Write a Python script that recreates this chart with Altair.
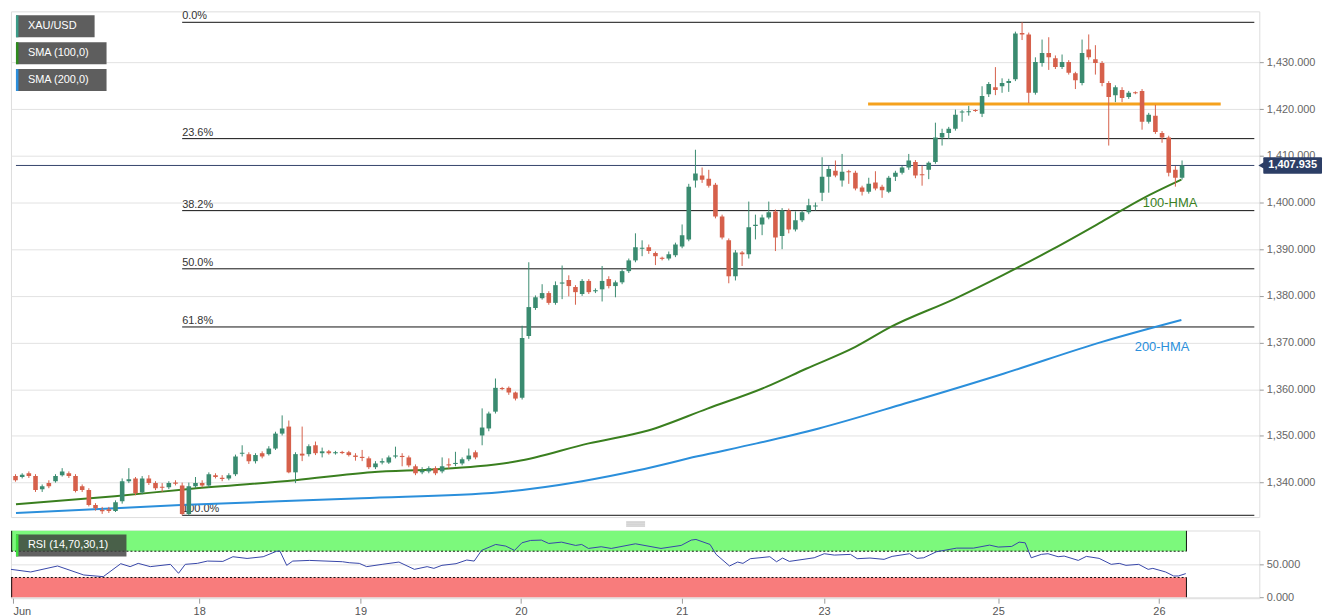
import altair as alt
import pandas as pd

# ---------------- data ----------------
FIRST_INDEX = -1
opens = [1341.4,1341.2,1342.0,1341.4,1338.6,1339.9,1340.3,1341.6,1342.0,1341.4,1339.2,1338.4,1335.2,1334.1,1334.3,1333.9,1336.0,1340.3,1340.9,1337.9,1340.9,1339.9,1339.1,1339.0,1340.0,1339.4,1333.3,1339.2,1339.9,1339.4,1341.6,1341.0,1340.9,1341.8,1346.2,1346.1,1344.6,1346.3,1346.1,1347.3,1350.5,1352.0,1342.2,1346.2,1346.1,1348.0,1346.3,1346.7,1346.3,1346.5,1346.5,1345.8,1345.5,1345.2,1343.3,1344.3,1344.3,1345.6,1345.7,1345.4,1343.5,1342.2,1342.4,1343.1,1342.4,1343.9,1344.0,1344.1,1345.0,1346.5,1350.1,1351.6,1355.2,1360.2,1360.3,1359.3,1358.2,1371.4,1377.4,1379.5,1380.6,1378.5,1382.7,1383.4,1381.9,1380.4,1383.2,1381.0,1381.4,1383.6,1382.1,1382.9,1385.3,1387.6,1390.1,1390.4,1389.2,1388.1,1388.0,1388.7,1390.6,1392.1,1404.7,1405.8,1405.1,1403.8,1397.0,1391.9,1384.2,1389.3,1388.9,1395.0,1395.3,1396.8,1398.1,1392.8,1398.3,1394.2,1396.2,1397.9,1399.2,1402.1,1405.5,1406.8,1404.7,1406.7,1406.4,1403.2,1402.3,1404.3,1403.4,1402.3,1405.5,1406.4,1407.5,1408.7,1406.0,1407.0,1408.7,1413.9,1414.9,1415.8,1419.3,1419.4,1419.8,1419.0,1423.2,1424.7,1424.9,1425.6,1426.4,1436.3,1436.0,1423.5,1429.9,1432.0,1430.9,1429.0,1430.1,1427.7,1425.6,1432.8,1430.7,1429.9,1425.6,1423.0,1424.1,1422.6,1423.6,1423.9,1417.3,1418.6,1414.9,1413.9,1407.0,1405.3]
highs = [1341.8,1342.0,1342.4,1341.8,1339.6,1340.5,1341.8,1343.1,1342.4,1341.8,1339.6,1338.8,1335.6,1334.8,1334.8,1336.2,1340.9,1343.1,1341.2,1341.4,1341.6,1340.3,1339.9,1340.3,1340.5,1340.0,1340.0,1341.2,1340.5,1342.2,1342.0,1341.6,1342.0,1346.0,1348.0,1346.5,1346.3,1346.7,1347.8,1350.9,1354.4,1353.3,1346.5,1352.0,1348.2,1348.8,1347.5,1347.0,1346.8,1346.8,1346.8,1346.3,1347.0,1345.6,1344.6,1345.2,1345.8,1347.7,1346.3,1345.8,1343.9,1343.3,1343.5,1343.5,1345.4,1345.2,1346.6,1345.4,1347.3,1346.9,1355.9,1355.2,1362.3,1360.5,1360.6,1359.5,1373.6,1387.2,1380.1,1382.5,1381.0,1383.1,1386.5,1384.4,1382.3,1383.6,1383.6,1381.6,1386.4,1384.2,1383.3,1385.7,1388.0,1393.4,1391.9,1391.0,1389.5,1388.4,1389.5,1391.4,1395.3,1404.0,1411.3,1407.5,1407.0,1404.2,1397.4,1392.3,1389.8,1389.6,1400.2,1397.4,1397.4,1400.2,1398.5,1398.8,1398.7,1398.1,1398.3,1400.8,1400.0,1409.7,1407.8,1409.0,1410.4,1407.0,1406.8,1403.6,1405.3,1406.7,1403.8,1405.7,1406.8,1407.8,1410.4,1409.1,1407.9,1408.8,1417.1,1415.8,1416.2,1419.9,1419.8,1420.7,1420.0,1424.9,1425.8,1429.0,1426.6,1426.5,1436.6,1438.6,1436.4,1431.1,1434.9,1435.4,1431.5,1431.7,1430.5,1428.0,1434.9,1436.0,1433.7,1430.3,1426.0,1425.1,1424.7,1423.9,1423.8,1424.3,1419.2,1420.9,1415.3,1414.3,1407.8,1409.0]
lows = [1340.2,1340.9,1341.0,1338.0,1338.0,1338.8,1340.0,1341.3,1341.0,1337.9,1338.0,1334.9,1334.0,1333.3,1333.5,1333.7,1335.5,1339.9,1337.3,1337.5,1339.5,1338.4,1338.0,1338.6,1339.4,1333.0,1333.0,1338.8,1339.0,1338.9,1340.9,1340.3,1340.5,1341.4,1345.6,1344.0,1344.1,1345.2,1345.8,1347.0,1350.1,1342.0,1339.9,1344.6,1345.6,1345.9,1345.4,1346.0,1346.0,1346.1,1345.6,1344.7,1344.6,1342.9,1342.9,1343.9,1344.0,1345.2,1343.5,1343.3,1341.6,1341.8,1342.0,1341.6,1342.0,1343.0,1343.5,1343.7,1344.6,1345.0,1348.0,1351.0,1354.8,1359.8,1358.8,1357.6,1357.8,1370.8,1377.0,1379.2,1378.1,1378.1,1379.3,1379.9,1378.1,1380.0,1380.4,1380.6,1378.8,1381.6,1379.7,1382.5,1384.9,1387.2,1388.5,1389.0,1386.6,1387.6,1387.6,1388.3,1390.2,1391.7,1403.2,1404.2,1403.2,1396.6,1392.1,1382.7,1383.3,1386.4,1388.0,1392.1,1393.0,1396.4,1389.6,1390.0,1393.4,1393.8,1395.8,1397.5,1398.3,1400.3,1402.1,1405.4,1403.4,1404.0,1402.6,1401.5,1401.9,1402.6,1401.0,1402.0,1404.6,1406.0,1407.0,1405.2,1403.6,1405.0,1408.3,1412.2,1413.6,1415.4,1417.3,1418.6,1419.4,1418.3,1422.6,1423.0,1423.5,1423.7,1426.0,1434.8,1421.3,1423.1,1429.1,1428.4,1428.6,1428.6,1427.4,1424.3,1425.1,1430.6,1427.4,1424.9,1412.2,1421.5,1421.5,1422.2,1423.2,1415.6,1416.9,1414.7,1412.8,1405.6,1403.4,1404.9]
closes = [1340.5,1341.7,1341.4,1338.4,1339.2,1339.2,1341.4,1342.4,1341.4,1338.2,1338.4,1335.2,1334.5,1333.9,1333.9,1335.8,1340.3,1340.7,1337.7,1340.9,1339.9,1338.8,1338.9,1339.9,1339.8,1333.3,1339.2,1339.9,1339.4,1341.8,1341.2,1340.8,1341.6,1345.6,1346.4,1344.6,1345.9,1345.6,1347.3,1350.5,1351.6,1342.2,1346.1,1345.8,1347.8,1346.3,1346.7,1346.3,1346.5,1346.4,1345.9,1345.5,1345.3,1343.3,1344.1,1344.6,1345.4,1345.8,1345.5,1343.7,1342.0,1342.6,1343.1,1342.0,1343.5,1343.7,1344.2,1345.0,1345.8,1345.4,1351.8,1354.8,1360.3,1360.1,1359.3,1358.0,1371.0,1377.6,1379.7,1380.6,1378.5,1382.3,1382.8,1382.1,1380.8,1383.2,1380.8,1381.2,1383.2,1382.1,1382.9,1385.3,1387.6,1390.4,1390.3,1389.6,1388.5,1388.0,1388.9,1391.0,1393.0,1403.4,1406.2,1404.9,1403.6,1397.0,1392.5,1384.2,1389.3,1388.9,1394.7,1395.2,1396.8,1397.9,1392.5,1398.3,1394.2,1396.2,1397.9,1399.4,1399.3,1405.5,1407.2,1405.8,1406.6,1406.5,1403.0,1402.3,1404.0,1403.0,1402.6,1405.3,1406.4,1407.5,1409.0,1405.8,1405.9,1408.5,1413.9,1414.9,1415.8,1418.8,1419.5,1419.5,1419.6,1422.8,1425.4,1424.1,1425.6,1426.0,1436.2,1436.0,1423.5,1430.1,1432.0,1431.1,1429.0,1430.1,1427.8,1426.2,1432.0,1431.1,1429.9,1425.6,1422.6,1424.7,1422.4,1423.5,1423.4,1417.3,1418.8,1415.1,1413.9,1406.4,1405.3,1407.935]

hma100_x = [-0.93, 13.9, 24.7, 41.0, 52.4, 62.3, 68.3, 74.2, 85.0, 93.9, 102.8, 111.7, 117.6, 125.0, 130.3, 139.8, 147.2, 154.6, 162.0, 168.0, 173.9]
hma100_y = [1335.39, 1337.10, 1338.59, 1340.51, 1342.22, 1342.86, 1343.50, 1344.56, 1348.40, 1351.17, 1355.86, 1360.55, 1364.39, 1369.08, 1373.35, 1379.32, 1384.5, 1390.0, 1395.9, 1400.8, 1404.9]
hma200_x = [-0.93, 23.8, 50.9, 71.7, 84.0, 92.4, 101.3, 110.2, 119.5, 132.4, 147.2, 162.0, 173.9]
hma200_y = [1333.48, 1335.18, 1336.67, 1337.95, 1340.30, 1342.64, 1345.63, 1348.40, 1351.60, 1356.93, 1363.33, 1370.15, 1374.84]

rsi_x = [-0.93,2.0,6.0,9.9,12.8,15.4,16.8,18.0,19.8,22.8,24.0,25.0,26.8,28.3,30.6,32.1,34.2,36.6,38.6,39.1,40.1,41.0,43.5,48.4,49.4,50.9,52.0,54.3,56.8,59.1,61.0,62.0,63.2,65.3,66.9,68.0,69.1,71.2,72.7,74.0,75.1,76.4,78.0,79.1,81.0,83.1,84.0,85.0,86.9,88.4,92.0,95.8,98.8,100.3,101.0,103.1,104.0,106.0,107.2,108.0,109.1,112.0,113.0,113.9,114.9,118.6,120.1,121.6,124.0,125.0,126.9,129.0,130.2,132.8,133.9,134.9,136.8,139.8,142.3,144.7,146.0,148.0,149.1,150.0,150.9,152.4,153.4,154.9,155.8,157.9,159.1,161.0,162.8,164.0,165.0,166.9,168.3,169.0,170.9,172.1,172.8,173.9]
rsi_v = [42.4,38.4,47.5,33.8,31.3,51.0,46.5,51.5,46.5,50.0,36.4,50.0,51.5,55.0,54.5,61.6,59.0,61.6,70.0,70.0,48.5,55.0,56.0,54.0,52.5,51.5,46.5,50.0,53.5,42.4,46.5,43.9,48.5,51.0,56.6,55.0,71.2,80.3,77.8,71.2,82.8,86.4,86.9,81.8,83.8,78.8,80.3,74.2,76.8,74.2,81.3,74.2,78.8,86.9,87.9,80.3,65.2,47.5,53.5,51.5,58.6,61.6,54.0,59.6,54.5,60.0,66.2,64.1,65.2,58.6,59.6,57.6,62.1,66.2,59.1,60.0,69.2,74.7,74.7,79.3,76.3,77.3,83.8,82.8,60.0,65.2,66.2,61.6,62.6,56.0,62.1,59.1,50.0,51.5,48.5,50.0,42.4,43.9,38.4,32.3,32.3,35.9]

fib_levels = [1438.6, 1413.68, 1398.26, 1385.8, 1373.34, 1333.0]
fib_labels = ["0.0%", "23.6%", "38.2%", "50.0%", "61.8%", "100.0%"]
fib_start = 24

resistance_price = 1421.1
resistance_from, resistance_to = 126.9, 179.8
last_price = 1407.935
last_label = "1,407.935"

price_ticks = [1340, 1350, 1360, 1370, 1380, 1390, 1400, 1410, 1420, 1430]
day_ticks = [-0.64, 27.07, 51.07, 74.96, 98.9, 120.06, 145.98, 169.9]
day_labels = ["Jun", "18", "19", "20", "21", "23", "25", "26"]

X_DOMAIN = [-0.933, 184.84]
Y_DOMAIN = [1332.62, 1440.94]
RSI_DOMAIN = [-1.5, 101.5]
W, H, RH = 1254, 508, 68

GREEN = "#3a8b70"
RED = "#d6604b"
HMA100 = "#3a7f1f"
HMA200 = "#2b8fdb"
NAVY = "#2c3e66"
FONT = "Liberation Sans"

# ---------------- tables ----------------
candles = pd.DataFrame({"i": range(FIRST_INDEX, FIRST_INDEX + len(opens)),
                        "o": opens, "h": highs, "l": lows, "c": closes})
candles["dir"] = ["up" if c >= o else "down" for o, c in zip(candles.o, candles.c)]
lo = candles[["o", "c"]].min(axis=1)
hi = candles[["o", "c"]].max(axis=1)
mid = (lo + hi) / 2
thin = (hi - lo) < 0.24
candles["b0"] = lo.where(~thin, mid - 0.12)
candles["b1"] = hi.where(~thin, mid + 0.12)

h100 = pd.DataFrame({"i": hma100_x, "p": hma100_y})
h200 = pd.DataFrame({"i": hma200_x, "p": hma200_y})
rsi = pd.DataFrame({"i": rsi_x, "v": rsi_v})
fib = pd.DataFrame({"p": fib_levels, "t": fib_labels, "x0": fib_start, "x1": X_DOMAIN[1]})

xs = alt.Scale(domain=X_DOMAIN, nice=False, zero=False)
ys = alt.Scale(domain=Y_DOMAIN, nice=False, zero=False)
rs = alt.Scale(domain=RSI_DOMAIN, nice=False, zero=False)
col = alt.Color("dir:N", scale=alt.Scale(domain=["up", "down"], range=[GREEN, RED]), legend=None)

yaxis = alt.Axis(orient="right", values=price_ticks, format=",.3f", grid=True,
                 gridColor="#e2e2e2", domain=False, tickColor="#9a9a9a", tickSize=4,
                 labelColor="#666666", labelFontSize=11, labelPadding=3, labelFont=FONT)

label_expr = "[" + ",".join("'%s'" % s for s in day_labels) + "][indexof([" + \
    ",".join(str(v) for v in day_ticks) + "], datum.value)]"
xaxis = alt.Axis(values=day_ticks, labelExpr=label_expr, grid=False, domain=False,
                 tickColor="#9a9a9a", tickSize=5, labelColor="#555555", labelFontSize=11,
                 labelPadding=2, labelFlush=10, labelFont=FONT)
raxis = alt.Axis(orient="right", values=[0, 50], format=",.3f", grid=True, gridColor="#e2e2e2",
                 domain=False, tickColor="#9a9a9a", tickSize=4, labelColor="#666666",
                 labelFontSize=11, labelPadding=3, labelFont=FONT)


def X(f):
    return alt.X(f, type="quantitative", scale=xs, axis=None, title=None)


def Y(f):
    return alt.Y(f, type="quantitative", scale=ys, axis=yaxis, title=None)


def RX(f):
    return alt.X(f, type="quantitative", scale=xs, axis=xaxis, title=None)


def RY(f):
    return alt.Y(f, type="quantitative", scale=rs, axis=raxis, title=None)


one = pd.DataFrame({"k": [0]})

wicks = alt.Chart(candles).mark_rule(strokeWidth=1, clip=True).encode(
    x=X("i"), y=Y("l"), y2="h", color=col)
bodies = alt.Chart(candles).mark_bar(size=4.6, clip=True).encode(
    x=X("i"), y=Y("b0"), y2="b1", color=col)

fib_rules = alt.Chart(fib).mark_rule(color="#111111", strokeWidth=1).encode(
    x=X("x0"), x2="x1", y=Y("p"))
fib_text = alt.Chart(fib).mark_text(align="left", baseline="bottom", dy=-1, fontSize=11,
                                    color="#333333", font=FONT).encode(
    x=X("x0"), y=Y("p"), text="t")

l100 = alt.Chart(h100).mark_line(color=HMA100, strokeWidth=2, interpolate="monotone").encode(
    x=X("i"), y=Y("p"))
l200 = alt.Chart(h200).mark_line(color=HMA200, strokeWidth=2, interpolate="monotone").encode(
    x=X("i"), y=Y("p"))

res = alt.Chart(pd.DataFrame({"a": [resistance_from], "b": [resistance_to], "p": [resistance_price]})
                ).mark_rule(color="#f5a11c", strokeWidth=3).encode(x=X("a"), x2="b", y=Y("p"))
last_rule = alt.Chart(pd.DataFrame({"a": [X_DOMAIN[0]], "b": [X_DOMAIN[1]], "p": [last_price]})
                      ).mark_rule(color="#34436b", strokeWidth=1).encode(x=X("a"), x2="b", y=Y("p"))

hma_labels = pd.DataFrame({"i": [168.1, 166.9], "p": [1399.8, 1369.1],
                           "t": ["100-HMA", "200-HMA"], "c": [HMA100, HMA200]})
hma_text = alt.Chart(hma_labels).mark_text(align="left", baseline="middle", fontSize=13,
                                           font=FONT).encode(
    x=X("i"), y=Y("p"), text="t", color=alt.Color("c:N", scale=None))

tag = alt.Chart(pd.DataFrame({"p0": [last_price - 1.75], "p1": [last_price + 1.75]})).mark_rect(
    color=NAVY, cornerRadius=1).encode(x=alt.value(1258), x2=alt.value(1317), y=Y("p0"), y2="p1")
tag_arrow = alt.Chart(pd.DataFrame({"p": [last_price]})).mark_point(
    shape="triangle-left", filled=True, size=45, color=NAVY, opacity=1).encode(
    x=alt.value(1256), y=Y("p"))
tag_text = alt.Chart(pd.DataFrame({"p": [last_price], "t": [last_label]})).mark_text(
    color="white", fontWeight="bold", fontSize=11, font=FONT, align="center", baseline="middle").encode(
    x=alt.value(1287.5), y=Y("p"), text="t")

legend_items = [("XAU/USD", 79, 4, "#3c9c88"), ("SMA (100,0)", 91, 31, "#2e8b1d"),
                ("SMA (200,0)", 91, 58, "#2d8fdc")]
legend_layers = []
for name, w, top, stripe in legend_items:
    legend_layers.append(alt.Chart(one).mark_rect(color="#5e5e5e").encode(
        x=alt.value(5), x2=alt.value(5 + w), y=alt.value(top), y2=alt.value(top + 22)))
    legend_layers.append(alt.Chart(one).mark_rect(color=stripe).encode(
        x=alt.value(5), x2=alt.value(7.5), y=alt.value(top), y2=alt.value(top + 22)))
    legend_layers.append(alt.Chart(one).mark_text(text=name, color="white", fontSize=11, font=FONT,
                                                  align="left", baseline="middle").encode(
        x=alt.value(17), y=alt.value(top + 11)))

# small splitter handle between the two panels (it extends the panel's bounds by 9.5 px)
handle_offsets = (5, 7, 9)
handle_layers = [alt.Chart(one).mark_rule(color="#9a9a9a", strokeWidth=0.8).encode(
    x=alt.value(618), x2=alt.value(637), y=alt.value(H + dy)) for dy in handle_offsets]

main = alt.layer(fib_rules, fib_text, l200, l100, res, last_rule, wicks, bodies, hma_text,
                 tag, tag_arrow, tag_text, *legend_layers, *handle_layers).properties(width=W, height=H)

# ---------------- RSI panel ----------------
band_end = 174.0
bands = pd.DataFrame({"a": [X_DOMAIN[0], X_DOMAIN[0]], "b": [band_end, band_end],
                      "v0": [70, 0], "v1": [101, 30], "c": ["#7cf97c", "#f87c7c"]})
band = alt.Chart(bands).mark_rect().encode(
    x=RX("a"), x2="b", y=RY("v0"), y2="v1", color=alt.Color("c:N", scale=None))
lvl = pd.DataFrame({"a": [X_DOMAIN[0]] * 2, "b": [band_end] * 2, "v": [70, 30]})
dashes = alt.Chart(lvl).mark_rule(color="#111111", strokeWidth=1, strokeDash=[2, 2]).encode(
    x=RX("a"), x2="b", y=RY("v"))
edges = pd.DataFrame({"a": [band_end, band_end, X_DOMAIN[0] + 0.1, X_DOMAIN[0] + 0.1],
                      "v0": [70, 0, 70, 0], "v1": [101, 30, 101, 30]})
edge = alt.Chart(edges).mark_rule(color="#111111", strokeWidth=1).encode(
    x=RX("a"), y=RY("v0"), y2="v1")
rsi_line = alt.Chart(rsi).mark_line(color="#3646a8", strokeWidth=1).encode(
    x=RX("i"), y=RY("v"))
rsi_box = alt.Chart(one).mark_rect(color="#3e3e3e", opacity=0.82).encode(
    x=alt.value(5), x2=alt.value(116), y=alt.value(4), y2=alt.value(26))
rsi_stripe = alt.Chart(one).mark_rect(color="#3fe03f").encode(
    x=alt.value(5), x2=alt.value(7.5), y=alt.value(4), y2=alt.value(26))
rsi_text = alt.Chart(one).mark_text(text="RSI (14,70,30,1)", color="white", fontSize=11,
                                    font=FONT, align="left", baseline="middle").encode(
    x=alt.value(17), y=alt.value(15))

rsi_chart = alt.layer(band, dashes, edge, rsi_line, rsi_box, rsi_stripe, rsi_text).properties(
    width=W, height=RH)

chart = alt.vconcat(main, rsi_chart, spacing=2.5).resolve_scale(
    x="independent", y="independent", color="independent").properties(
    padding={"left": 0, "top": 0, "right": 0, "bottom": 0}, background="white").configure_view(
    fill="#f6f6f6", stroke="#d6d6d6").configure(font=FONT)

chart.save("out.html", embed_options={"renderer": "svg", "actions": False})
